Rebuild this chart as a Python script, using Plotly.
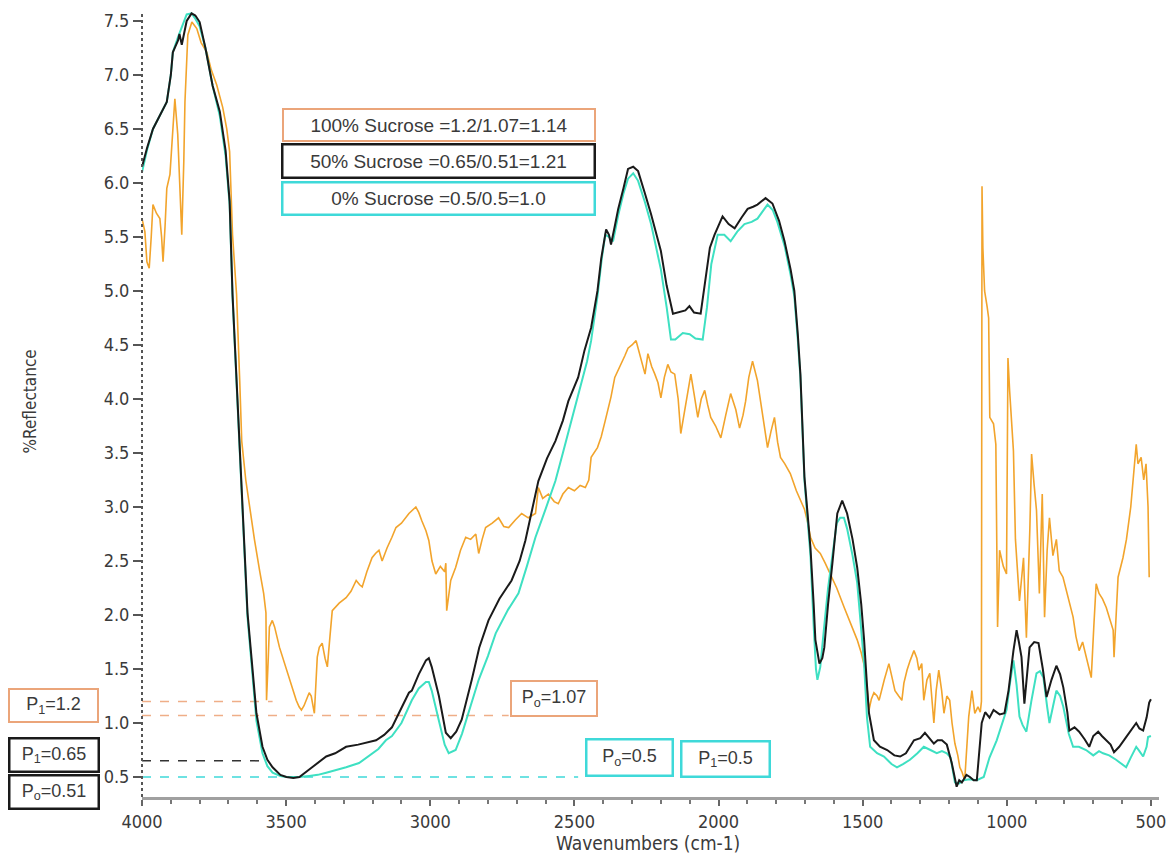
import plotly.graph_objects as go

# ---- FTIR reflectance spectra (wavenumber in cm-1, %Reflectance) ----
wn_100 = [4000, 3990, 3983, 3975, 3968, 3962, 3950, 3938, 3932, 3927, 3920, 3914, 3903, 3895, 3886,
          3876, 3868, 3862, 3855, 3851, 3841, 3827, 3810, 3795, 3775, 3760, 3741, 3720, 3706, 3696,
          3686, 3672, 3661, 3654, 3640, 3627, 3610, 3592, 3578, 3570, 3568, 3562, 3558, 3548, 3540,
          3523, 3505, 3489, 3475, 3465, 3455, 3447, 3438, 3430, 3420, 3413, 3402, 3397, 3392, 3385,
          3375, 3365, 3357, 3348, 3340, 3316, 3300, 3292, 3275, 3257, 3245, 3236, 3220, 3202, 3190,
          3178, 3167, 3150, 3133, 3119, 3100, 3074, 3050, 3040, 3029, 3015, 3005, 2994, 2981, 2965,
          2950, 2946, 2943, 2936, 2929, 2912, 2895, 2877, 2860, 2842, 2832, 2820, 2808, 2785, 2763,
          2745, 2728, 2705, 2683, 2660, 2635, 2625, 2610, 2590, 2570, 2556, 2540, 2521, 2500, 2480,
          2462, 2450, 2442, 2420, 2407, 2393, 2373, 2360, 2338, 2325, 2314, 2300, 2286, 2270, 2255,
          2245, 2232, 2221, 2210, 2200, 2188, 2176, 2165, 2152, 2140, 2131, 2115, 2096, 2085, 2072,
          2060, 2048, 2038, 2027, 2010, 1992, 1975, 1958, 1940, 1927, 1915, 1906, 1895, 1882, 1865,
          1850, 1840, 1830, 1818, 1806, 1795, 1785, 1770, 1751, 1730, 1702, 1690, 1681, 1665, 1647,
          1630, 1612, 1590, 1564, 1540, 1519, 1505, 1491, 1484, 1478, 1470, 1461, 1450, 1443, 1425,
          1409, 1398, 1388, 1375, 1364, 1357, 1346, 1335, 1322, 1312, 1305, 1295, 1288, 1277, 1267,
          1253, 1245, 1236, 1226, 1218, 1208, 1198, 1190, 1180, 1170, 1163, 1156, 1146, 1140, 1132,
          1121, 1111, 1100, 1092, 1088, 1086, 1083, 1077, 1068, 1063, 1059, 1046, 1038, 1032, 1025,
          1012, 1001, 996, 990, 977, 970, 956, 942, 932, 920, 914, 905, 897, 887, 877,
          869, 860, 852, 840, 828, 818, 805, 793, 780, 770, 760, 749, 737, 725, 715,
          707, 698, 690, 680, 668, 655, 642, 631, 628, 620, 614, 597, 585, 570, 560,
          551, 545, 534, 525, 517, 510, 506]
r_100 = [5.67, 5.55, 5.27, 5.21, 5.50, 5.80, 5.72, 5.67, 5.50, 5.27, 5.60, 5.95, 6.08, 6.40, 6.78,
         6.45, 5.90, 5.52, 6.20, 6.75, 7.37, 7.49, 7.43, 7.30, 7.21, 7.05, 6.91, 6.70, 6.50, 6.29,
         5.52, 4.97, 4.17, 3.61, 3.25, 3.00, 2.70, 2.41, 2.20, 2.02, 1.21, 1.60, 1.89, 1.95, 1.89,
         1.70, 1.55, 1.40, 1.28, 1.21, 1.15, 1.12, 1.16, 1.21, 1.28, 1.25, 1.09, 1.35, 1.61, 1.70,
         1.74, 1.60, 1.52, 1.80, 2.04, 2.11, 2.14, 2.16, 2.22, 2.32, 2.28, 2.26, 2.40, 2.53, 2.57,
         2.60, 2.50, 2.62, 2.72, 2.81, 2.85, 2.94, 3.00, 2.95, 2.87, 2.78, 2.69, 2.50, 2.38, 2.45,
         2.40, 2.48, 2.04, 2.20, 2.32, 2.44, 2.60, 2.72, 2.70, 2.75, 2.57, 2.70, 2.81, 2.85, 2.90,
         2.82, 2.81, 2.88, 2.94, 2.90, 2.94, 3.18, 3.08, 3.12, 3.05, 3.03, 3.12, 3.18, 3.15, 3.20,
         3.18, 3.25, 3.46, 3.55, 3.65, 3.80, 4.02, 4.20, 4.32, 4.40, 4.47, 4.50, 4.54, 4.38, 4.23,
         4.42, 4.30, 4.23, 4.15, 4.01, 4.20, 4.32, 4.25, 4.23, 4.00, 3.68, 3.95, 4.23, 4.05, 3.83,
         4.00, 4.08, 3.95, 3.83, 3.75, 3.64, 3.85, 4.05, 3.90, 3.73, 3.85, 3.98, 4.20, 4.35, 4.17,
         3.90, 3.75, 3.55, 3.70, 3.83, 3.60, 3.46, 3.40, 3.31, 3.15, 2.98, 2.85, 2.72, 2.62, 2.57,
         2.48, 2.38, 2.25, 2.07, 1.90, 1.77, 1.65, 1.49, 1.30, 1.12, 1.22, 1.28, 1.25, 1.21, 1.40,
         1.55, 1.42, 1.30, 1.25, 1.21, 1.37, 1.49, 1.58, 1.67, 1.60, 1.49, 1.55, 1.21, 1.40, 1.46,
         1.00, 1.30, 1.49, 1.30, 1.09, 1.25, 1.21, 1.00, 0.81, 0.70, 0.59, 0.55, 0.47, 0.75, 1.06,
         1.30, 1.09, 1.15, 1.10, 1.20, 5.97, 5.40, 5.00, 4.85, 4.75, 3.83, 3.77, 3.58, 1.89, 2.60,
         2.45, 2.38, 4.38, 4.07, 3.52, 2.70, 2.13, 2.53, 1.79, 2.80, 3.49, 3.20, 2.97, 2.20, 3.12,
         1.98, 2.60, 2.90, 2.55, 2.70, 2.41, 2.35, 2.22, 2.10, 1.98, 1.80, 1.67, 1.75, 1.61, 1.50,
         1.42, 1.90, 2.29, 2.20, 2.15, 2.07, 1.95, 1.86, 1.61, 2.00, 2.35, 2.53, 2.70, 3.00, 3.30,
         3.58, 3.40, 3.46, 3.25, 3.40, 3.00, 2.35]

wn_50 = [4000, 3983, 3962, 3940, 3914, 3900, 3893, 3875, 3870, 3862, 3845, 3828, 3815, 3800, 3780,
         3755, 3730, 3710, 3696, 3686, 3672, 3654, 3634, 3603, 3582, 3565, 3547, 3520, 3499, 3475,
         3454, 3420, 3390, 3361, 3330, 3292, 3250, 3220, 3188, 3160, 3133, 3109, 3074, 3064, 3040,
         3015, 3005, 2995, 2970, 2946, 2929, 2910, 2891, 2856, 2830, 2798, 2760, 2718, 2690, 2670,
         2650, 2625, 2595, 2566, 2540, 2521, 2487, 2465, 2442, 2420, 2407, 2390, 2380, 2373, 2360,
         2348, 2330, 2314, 2296, 2279, 2255, 2234, 2200, 2180, 2158, 2140, 2131, 2115, 2101, 2085,
         2062, 2045, 2030, 2014, 1986, 1965, 1944, 1920, 1899, 1880, 1865, 1837, 1813, 1790, 1771,
         1750, 1737, 1725, 1716, 1702, 1690, 1681, 1670, 1664, 1650, 1640, 1633, 1620, 1605, 1588,
         1571, 1554, 1535, 1519, 1505, 1495, 1485, 1478, 1461, 1440, 1415, 1390, 1370, 1350, 1322,
         1300, 1284, 1265, 1253, 1240, 1225, 1208, 1191, 1174, 1165, 1156, 1140, 1128, 1115, 1104,
         1095, 1087, 1075, 1060, 1046, 1025, 1008, 994, 977, 966, 958, 949, 939, 930, 921,
         905, 890, 875, 862, 845, 828, 815, 804, 790, 783, 765, 749, 730, 714, 700,
         683, 670, 655, 640, 628, 610, 586, 565, 551, 540, 527, 515, 506, 500]
r_50 = [6.15, 6.32, 6.50, 6.62, 6.75, 7.00, 7.21, 7.32, 7.38, 7.28, 7.50, 7.57, 7.55, 7.49, 7.25,
        6.90, 6.66, 6.30, 5.83, 4.97, 4.17, 3.24, 2.02, 1.09, 0.78, 0.66, 0.59, 0.52, 0.50, 0.49,
        0.50, 0.57, 0.63, 0.69, 0.72, 0.78, 0.80, 0.82, 0.84, 0.89, 0.96, 1.09, 1.28, 1.30, 1.45,
        1.58, 1.60, 1.52, 1.25, 0.91, 0.86, 0.92, 1.03, 1.40, 1.70, 1.95, 2.15, 2.32, 2.50, 2.69,
        2.95, 3.24, 3.45, 3.61, 3.80, 3.98, 4.20, 4.45, 4.66, 5.00, 5.30, 5.57, 5.52, 5.43, 5.60,
        5.76, 5.95, 6.13, 6.15, 6.11, 5.90, 5.71, 5.37, 5.05, 4.79, 4.80, 4.81, 4.82, 4.86, 4.80,
        4.79, 5.10, 5.40, 5.52, 5.69, 5.62, 5.58, 5.68, 5.76, 5.78, 5.80, 5.86, 5.81, 5.65, 5.46,
        5.20, 5.00, 4.60, 4.23, 3.28, 2.90, 2.62, 2.10, 1.77, 1.55, 1.60, 1.70, 2.10, 2.48, 2.94,
        3.06, 2.94, 2.70, 2.44, 2.10, 1.77, 1.35, 1.09, 0.84, 0.78, 0.75, 0.70, 0.69, 0.72, 0.84,
        0.86, 0.91, 0.85, 0.81, 0.84, 0.84, 0.80, 0.63, 0.41, 0.47, 0.45, 0.52, 0.50, 0.47, 0.47,
        0.75, 1.00, 1.10, 1.05, 1.12, 1.08, 1.09, 1.30, 1.67, 1.86, 1.75, 1.61, 1.18, 1.45, 1.70,
        1.75, 1.74, 1.50, 1.24, 1.40, 1.53, 1.45, 1.33, 1.10, 0.93, 0.96, 0.92, 0.85, 0.78, 0.88,
        0.92, 0.88, 0.84, 0.80, 0.73, 0.78, 0.87, 0.95, 1.00, 0.95, 0.93, 1.05, 1.19, 1.22]

wn_0 = [4000, 3983, 3962, 3940, 3914, 3900, 3893, 3875, 3860, 3845, 3828, 3815, 3800, 3780, 3755,
        3730, 3710, 3696, 3686, 3672, 3654, 3634, 3603, 3582, 3565, 3547, 3520, 3499, 3475, 3454,
        3420, 3390, 3361, 3330, 3292, 3247, 3210, 3180, 3154, 3133, 3100, 3064, 3040, 3015, 3005,
        2995, 2970, 2950, 2936, 2912, 2890, 2867, 2832, 2800, 2773, 2730, 2694, 2665, 2635, 2600,
        2566, 2540, 2511, 2476, 2456, 2442, 2420, 2405, 2393, 2380, 2366, 2348, 2330, 2314, 2296,
        2279, 2255, 2234, 2200, 2180, 2165, 2150, 2124, 2100, 2080, 2055, 2040, 2025, 2003, 1980,
        1958, 1935, 1910, 1885, 1865, 1830, 1812, 1796, 1771, 1750, 1737, 1725, 1716, 1702, 1690,
        1681, 1670, 1662, 1657, 1647, 1635, 1620, 1605, 1590, 1578, 1565, 1554, 1535, 1519, 1505,
        1495, 1485, 1474, 1450, 1426, 1400, 1381, 1360, 1336, 1310, 1288, 1265, 1243, 1225, 1208,
        1195, 1180, 1165, 1150, 1130, 1104, 1080, 1060, 1035, 1015, 1001, 990, 977, 966, 956,
        945, 932, 915, 897, 885, 873, 860, 852, 840, 828, 815, 804, 785, 770, 750,
        725, 700, 680, 666, 645, 621, 600, 586, 570, 551, 540, 527, 515, 510, 500]
r_0 = [6.10, 6.30, 6.50, 6.62, 6.75, 7.00, 7.21, 7.35, 7.45, 7.56, 7.57, 7.52, 7.45, 7.25, 6.90,
       6.62, 6.25, 5.80, 4.95, 4.15, 3.20, 1.98, 1.02, 0.72, 0.60, 0.54, 0.51, 0.50, 0.50, 0.50,
       0.51, 0.52, 0.54, 0.56, 0.59, 0.63, 0.70, 0.76, 0.84, 0.88, 1.00, 1.21, 1.32, 1.38, 1.38,
       1.30, 1.02, 0.80, 0.72, 0.75, 0.90, 1.09, 1.40, 1.62, 1.83, 2.05, 2.20, 2.45, 2.72, 2.98,
       3.24, 3.50, 3.80, 4.17, 4.35, 4.54, 4.95, 5.30, 5.52, 5.50, 5.46, 5.70, 5.90, 6.04, 6.09,
       6.02, 5.82, 5.62, 5.20, 4.85, 4.55, 4.55, 4.61, 4.60, 4.56, 4.55, 4.85, 5.25, 5.52, 5.52,
       5.46, 5.55, 5.62, 5.64, 5.67, 5.80, 5.75, 5.64, 5.42, 5.15, 4.95, 4.55, 4.20, 3.25, 2.85,
       2.55, 1.90, 1.50, 1.40, 1.52, 1.85, 2.25, 2.55, 2.85, 2.90, 2.90, 2.80, 2.55, 2.30, 1.90,
       1.55, 1.05, 0.78, 0.72, 0.69, 0.62, 0.59, 0.62, 0.66, 0.72, 0.78, 0.75, 0.72, 0.74, 0.72,
       0.68, 0.45, 0.44, 0.47, 0.48, 0.47, 0.50, 0.68, 0.84, 1.00, 1.12, 1.35, 1.58, 1.35, 1.06,
       0.98, 0.92, 1.20, 1.46, 1.48, 1.42, 1.15, 1.00, 1.15, 1.30, 1.25, 1.15, 0.90, 0.78, 0.78,
       0.75, 0.70, 0.74, 0.72, 0.70, 0.66, 0.62, 0.59, 0.68, 0.78, 0.74, 0.69, 0.78, 0.87, 0.88]

# ---- baseline (P0 / P1) reference levels and where their dashed guides stop ----
ref_levels = [1.2, 1.07, 0.65, 0.5]
ref_end_wn = [3547, 2728, 3582, 2487]
ref_colors = ["#EFAE88", "#EFAE88", "#333333", "#3FD9D9"]

# ---- ratio labels ----
ratio_labels = ["100% Sucrose =1.2/1.07=1.14",
                "50% Sucrose =0.65/0.51=1.21",
                "0% Sucrose =0.5/0.5=1.0"]

ORANGE = "#F2A42C"
BLACK = "#1A1A1A"
CYAN = "#3EE0C2"
BOX_ORANGE = "#EBA57A"
BOX_CYAN = "#3FD9D9"
TXT = "#3A3A3A"

NARROW = "Liberation Sans Narrow, Arial Narrow, DejaVu Sans Condensed, sans-serif"
REG = "Liberation Sans, Arial, sans-serif"

fig = go.Figure()
fig.add_trace(go.Scatter(x=wn_100, y=r_100, mode="lines", name="100% Sucrose",
                         line=dict(color=ORANGE, width=1.6)))
fig.add_trace(go.Scatter(x=wn_0, y=r_0, mode="lines", name="0% Sucrose",
                         line=dict(color=CYAN, width=2)))
fig.add_trace(go.Scatter(x=wn_50, y=r_50, mode="lines", name="50% Sucrose",
                         line=dict(color=BLACK, width=2)))

# dashed baseline guides
for lvl, end, col in zip(ref_levels, ref_end_wn, ref_colors):
    fig.add_shape(type="line", xref="x", yref="y", x0=4000, x1=end, y0=lvl, y1=lvl,
                  line=dict(color=col, width=1.5, dash="dash"), layer="below")

# dotted left spine
fig.add_shape(type="line", xref="paper", yref="paper", x0=0, x1=0, y0=0, y1=1,
              line=dict(color="#555555", width=2, dash="dot"))

# plot area: 1021 x 787 px starting at (142, 10)
L, T, W, H = 142, 10, 1021, 787


def px(xp):
    return (xp - L) / W


def py(yp):
    return (T + H - yp) / H


def box(text, cx, cy, w, h, border, bw=2, size=17):
    fig.add_annotation(xref="paper", yref="paper", x=px(cx), y=py(cy),
                       xanchor="center", yanchor="middle", text=text, showarrow=False,
                       width=w, height=h, bgcolor="white", bordercolor=border,
                       borderwidth=bw, borderpad=0, align="center",
                       font=dict(family=REG, size=size, color=TXT))


# ratio legend boxes
box(ratio_labels[0], 440, 123.5, 310, 30, BOX_ORANGE, 2, 19)
box(ratio_labels[1], 440, 159.5, 310, 31, BLACK, 2.5, 19)
box(ratio_labels[2], 440, 196.5, 310, 30, BOX_CYAN, 2.5, 19)

# baseline value boxes
box("P<sub>1</sub>=1.2", 53.5, 705.5, 87, 31, BOX_ORANGE, 2, 18)
box("P<sub>1</sub>=0.65", 53.5, 755, 87, 31, BLACK, 2.5, 18)
box("P<sub>o</sub>=0.51", 53.5, 791.5, 87, 31, BLACK, 2.5, 18)
box("P<sub>o</sub>=1.07", 556, 698.5, 84, 33, BOX_ORANGE, 2, 18)
box("P<sub>o</sub>=0.5", 631, 757, 84, 34, BOX_CYAN, 2.5, 18)
box("P<sub>1</sub>=0.5", 728, 758.5, 86, 33, BOX_CYAN, 2.5, 18)

# axis titles
fig.add_annotation(xref="paper", yref="paper", x=px(30), y=py(400), text="%Reflectance",
                   textangle=-90, showarrow=False, xanchor="center", yanchor="middle",
                   font=dict(family=NARROW, size=17, color=TXT))
fig.add_annotation(xref="paper", yref="paper", x=px(650), y=py(843), text="Wavenumbers (cm-1)",
                   showarrow=False, xanchor="center", yanchor="middle",
                   font=dict(family=NARROW, size=19, color=TXT))

fig.update_layout(
    width=1176, height=858,
    margin=dict(l=L, r=1176 - L - W, t=T, b=858 - T - H),
    paper_bgcolor="white", plot_bgcolor="white",
    showlegend=False,
    font=dict(family=NARROW, size=18, color=TXT),
)
fig.update_xaxes(range=[4000, 472], tickmode="array", tickvals=[4000, 3500, 3000, 2500, 2000, 1500, 1000, 500],
                 ticktext=["4000", "3500", "3000", "2500", "2000", "1500", "1000", "500"],
                 showgrid=False, zeroline=False, showline=True, linecolor="#A0A0A0", linewidth=3,
                 ticks="outside", ticklen=6, tickwidth=2, tickcolor="#666666",
                 minor=dict(dtick=100, ticks="outside", ticklen=4, tickwidth=1.5, tickcolor="#777777"),
                 tickfont=dict(family=NARROW, size=18, color=TXT))
fig.update_yaxes(range=[0.315, 7.583], tickmode="array",
                 tickvals=[0.5, 1.0, 1.5, 2.0, 2.5, 3.0, 3.5, 4.0, 4.5, 5.0, 5.5, 6.0, 6.5, 7.0, 7.5],
                 ticktext=["0.5", "1.0", "1.5", "2.0", "2.5", "3.0", "3.5", "4.0", "4.5", "5.0",
                           "5.5", "6.0", "6.5", "7.0", "7.5"],
                 showgrid=False, zeroline=False, showline=False,
                 ticks="outside", ticklen=8, tickwidth=2, tickcolor="#555555",
                 tickfont=dict(family=NARROW, size=18, color=TXT))

fig.write_html("out.html")
